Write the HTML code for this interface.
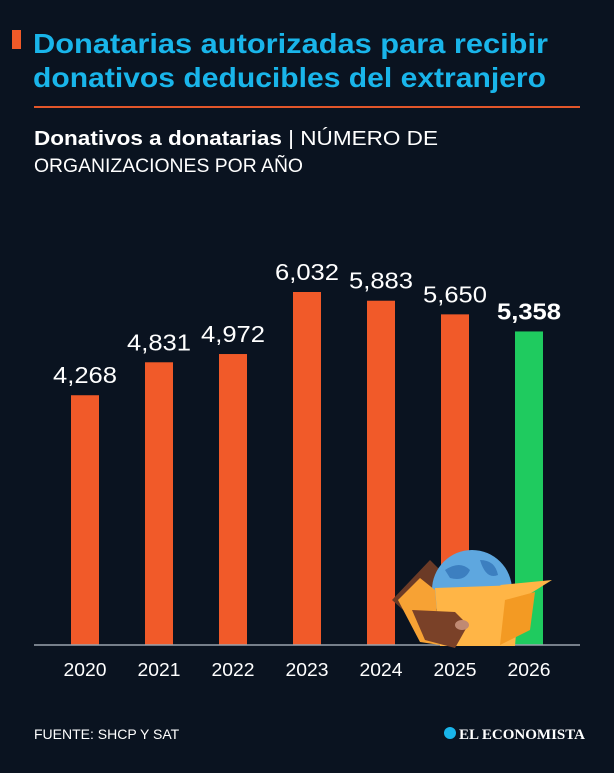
<!DOCTYPE html>
<html><head><meta charset="utf-8"><style>
body{margin:0;background:#0a1320;width:614px;height:768px;overflow:hidden;font-family:"Liberation Sans",sans-serif;}
</style></head><body>
<svg width="614" height="768" id="svg">
<rect width="614" height="768" fill="#0a1320"/>
<rect x="12" y="30" width="9" height="19" fill="#f05a28"/>
<text x="33" y="53" font-size="28" font-weight="bold" fill="#19b5ea" textLength="515" lengthAdjust="spacingAndGlyphs">Donatarias autorizadas para recibir</text>
<text x="33" y="87" font-size="28" font-weight="bold" fill="#19b5ea" textLength="513" lengthAdjust="spacingAndGlyphs">donativos deducibles del extranjero</text>
<rect x="34" y="106" width="546" height="2" fill="#e2562a"/>
<text x="34" y="145" font-size="20" fill="#fff" textLength="404" lengthAdjust="spacingAndGlyphs"><tspan font-weight="bold">Donativos a donatarias</tspan> | NÚMERO DE</text>
<text x="34" y="172" font-size="19" fill="#fff" textLength="269" lengthAdjust="spacingAndGlyphs">ORGANIZACIONES POR AÑO</text>
<g id="bars"></g>
<line x1="34" y1="645" x2="580" y2="645" stroke="#9aa3ad" stroke-width="1.5"/>
<g>
<path d="M392 600 L430 560 L450 580 L420 625 Z" fill="#6b3a26"/>
<circle cx="472" cy="590" r="40" fill="#5ea7df"/>
<path d="M445 570 q15 -10 25 0 q-5 12 -20 8z M480 560 q15 0 18 15 q-12 5 -18 -15z M450 600 q12 -4 20 6 q-12 8 -20 -6z" fill="#3c7fc0"/>
<path d="M398 600 L420 578 L435 590 L440 645 L420 642 Z" fill="#f7a234"/>
<path d="M435 588 L520 585 L515 646 L440 646 Z" fill="#ffb546"/>
<path d="M500 585 L552 580 L520 600 Z" fill="#ffb546"/>
<path d="M505 600 L535 592 L530 630 L500 645 Z" fill="#f39a23"/>
<path d="M412 610 L455 612 L468 625 L455 648 L425 640 Z" fill="#7a4128"/>
<ellipse cx="462" cy="625" rx="7" ry="5" fill="#c08a73"/>
</g>
<g id="labels"></g>
<text x="34" y="739" font-size="14" fill="#fff">FUENTE: SHCP Y SAT</text>
<circle cx="450" cy="733" r="6" fill="#19b5ea"/>
<text x="459" y="739" font-size="15" font-weight="bold" font-family="Liberation Serif,serif" fill="#fff">EL ECONOMISTA</text>
</svg>
<script>
const categories=["2020","2021","2022","2023","2024","2025","2026"];
const values=[4268,4831,4972,6032,5883,5650,5358];
const valueLabels=["4,268","4,831","4,972","6,032","5,883","5,650","5,358"];
const base=645, scale=353/6032;
const x=i=>85+i*74, y=v=>base-v*scale;
const ns="http://www.w3.org/2000/svg";
const gb=document.getElementById('bars'), gl=document.getElementById('labels');
categories.forEach((c,i)=>{
  const last=i===categories.length-1;
  const r=document.createElementNS(ns,'rect');
  r.setAttribute('x',x(i)-14);r.setAttribute('width',28);
  r.setAttribute('y',y(values[i]));r.setAttribute('height',base-y(values[i]));
  r.setAttribute('fill',last?'#1fcb5f':'#f15a29');
  
  
  gb.appendChild(r);
  const t=document.createElementNS(ns,'text');
  t.setAttribute('x',x(i));t.setAttribute('y',y(values[i])-12);
  t.setAttribute('text-anchor','middle');t.setAttribute('font-size','23');
  t.setAttribute('textLength','64');t.setAttribute('lengthAdjust','spacingAndGlyphs');
  if(last)t.setAttribute('font-weight','bold');
  t.setAttribute('fill','#fff');t.textContent=valueLabels[i];
  
  
  gl.appendChild(t);
  const k=document.createElementNS(ns,'text');
  k.setAttribute('x',x(i));k.setAttribute('y',676);
  k.setAttribute('text-anchor','middle');k.setAttribute('font-size','18');
  k.setAttribute('textLength','43');k.setAttribute('lengthAdjust','spacingAndGlyphs');
  k.setAttribute('fill','#fff');k.textContent=c;
  
  
  gl.appendChild(k);
});
</script>
</body></html>
